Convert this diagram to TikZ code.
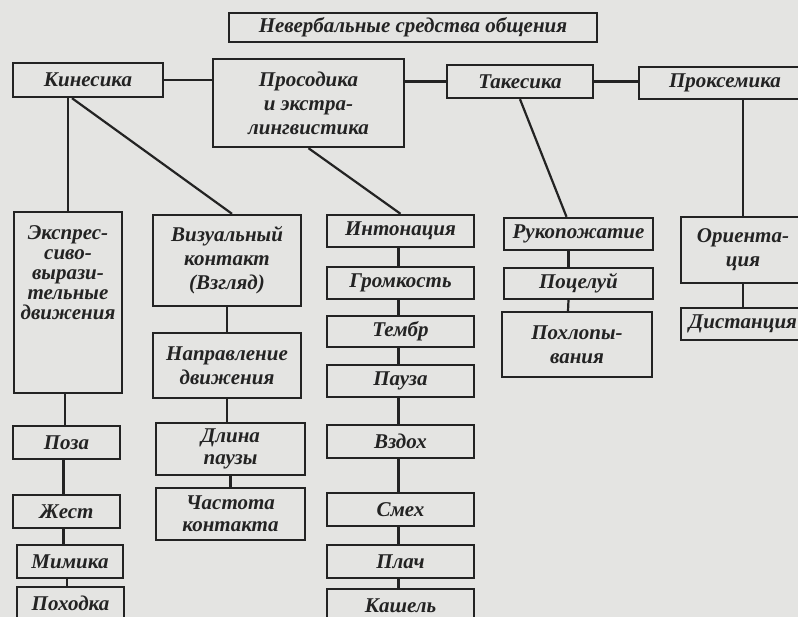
\documentclass[tikz,border=0pt]{standalone}
\usepackage{fontspec}
\setmainfont{Liberation Serif}
\usetikzlibrary{calc}
\definecolor{paper}{RGB}{228,228,226}
\definecolor{ink}{RGB}{35,35,35}

\begin{document}
\begin{tikzpicture}[x=1pt,y=-1pt,
  blk/.style={draw=ink,line width=2.4pt,inner sep=2pt,align=center,text=ink,
    font=\bfseries\itshape\fontsize{21}{24}\selectfont},
  lnk/.style={draw=ink,line width=2.2pt}]
  \useasboundingbox (0,0) rectangle (798,617);
  \clip (0,0) rectangle (798,617);
  \fill[paper] (0,0) rectangle (798,617);

  \node[blk,minimum width=368pt,minimum height=29pt] (title) at (413,27.5) {Невербальные средства общения};
  \node[blk,minimum width=150pt,minimum height=34pt] (kin) at (88,80) {Кинесика};
  \node[blk,minimum width=191pt,minimum height=88pt] (pros) at (308.5,103) {Просодика\\и экстра-\\лингвистика};
  \node[blk,minimum width=146pt,minimum height=33pt] (tak) at (520,81.5) {Такесика};
  \node[blk,minimum width=172pt,minimum height=32pt] (prox) at (725,83) {Проксемика};

  \node[blk,minimum width=108pt,minimum height=181pt,font=\bfseries\itshape\fontsize{21}{20}\selectfont]
    (eks) at (68,302.5) {Экспрес-\\сиво-\\вырази-\\тельные\\движения\\[39pt]\mbox{}};
  \node[blk,minimum width=107pt,minimum height=33pt] (poza) at (66.5,442.5) {Поза};
  \node[blk,minimum width=107pt,minimum height=33pt] (zhest) at (66.5,511.5) {Жест};
  \node[blk,minimum width=106pt,minimum height=33pt] (mim) at (70,561.5) {Мимика};
  \node[blk,minimum width=107pt,minimum height=33pt] (pohod) at (70.5,603.5) {Походка};

  \node[blk,minimum width=148pt,minimum height=91pt] (viz) at (227,260.5) {Визуальный\\контакт\\(Взгляд)};
  \node[blk,minimum width=148pt,minimum height=65pt] (napr) at (227,365.5) {Направление\\движения};
  \node[blk,minimum width=149pt,minimum height=52pt,font=\bfseries\itshape\fontsize{21}{22}\selectfont]
    (dlina) at (230.5,449) {Длина\\паузы};
  \node[blk,minimum width=149pt,minimum height=52pt,font=\bfseries\itshape\fontsize{21}{22}\selectfont]
    (chast) at (230.5,514) {Частота\\контакта};

  \node[blk,minimum width=147pt,minimum height=32pt] (inton) at (400.5,231) {Интонация};
  \node[blk,minimum width=147pt,minimum height=32pt] (grom) at (400.5,283) {Громкость};
  \node[blk,minimum width=147pt,minimum height=31pt] (tembr) at (400.5,331.5) {Тембр};
  \node[blk,minimum width=147pt,minimum height=32pt] (pauza) at (400.5,381) {Пауза};
  \node[blk,minimum width=147pt,minimum height=33pt] (vzdoh) at (400.5,441.5) {Вздох};
  \node[blk,minimum width=147pt,minimum height=33pt] (smeh) at (400.5,509.5) {Смех};
  \node[blk,minimum width=147pt,minimum height=33pt] (plach) at (400.5,561.5) {Плач};
  \node[blk,minimum width=147pt,minimum height=33pt] (kash) at (400.5,605.5) {Кашель};

  \node[blk,minimum width=149pt,minimum height=32pt] (ruk) at (578.5,234) {Рукопожатие};
  \node[blk,minimum width=149pt,minimum height=31pt] (poc) at (578.5,283.5) {Поцелуй};
  \node[blk,minimum width=150pt,minimum height=65pt] (pohl) at (577,344.5) {Похлопы-\\вания};

  \node[blk,minimum width=124pt,minimum height=66pt] (orient) at (743,250) {Ориента-\\ция};
  \node[blk,minimum width=124pt,minimum height=32pt] (dist) at (743,324) {Дистанция};

  \draw[lnk] (kin.east) -- (kin.east -| pros.west);
  \draw[lnk] (tak.west -| pros.east) -- (tak.west);
  \draw[lnk] (tak.east) -- (tak.east -| prox.west);

  \draw[lnk] (kin.south -| eks.north) -- (eks.north);
  \draw[lnk] ([xshift=-16pt]kin.south) -- ([xshift=5pt]viz.north);
  \draw[lnk] (pros.south) -- (inton.north);
  \draw[lnk] (tak.south) -- ([xshift=-12pt]ruk.north);
  \draw[lnk] (prox.south -| orient.north) -- (orient.north);

  \foreach \a/\b in {eks/poza,poza/zhest,zhest/mim,mim/pohod}
    \draw[lnk] ([xshift=-3pt]\a.south) -- ([xshift=-3pt]\a.south |- \b.north);
  \draw[lnk] (viz.south) -- (napr.north);
  \draw[lnk] (napr.south) -- (napr.south |- dlina.north);
  \draw[lnk] (dlina.south) -- (chast.north);
  \foreach \a/\b in {inton/grom,grom/tembr,tembr/pauza,pauza/vzdoh,vzdoh/smeh,smeh/plach,plach/kash}
    \draw[lnk] ([xshift=-2pt]\a.south) -- ([xshift=-2pt]\b.north);
  \draw[lnk] ([xshift=-10pt]ruk.south) -- ([xshift=-10pt]poc.north);
  \draw[lnk] ([xshift=-10pt]poc.south) -- ([xshift=-9pt]pohl.north);
  \draw[lnk] (orient.south) -- (dist.north);
\end{tikzpicture}
\end{document}
